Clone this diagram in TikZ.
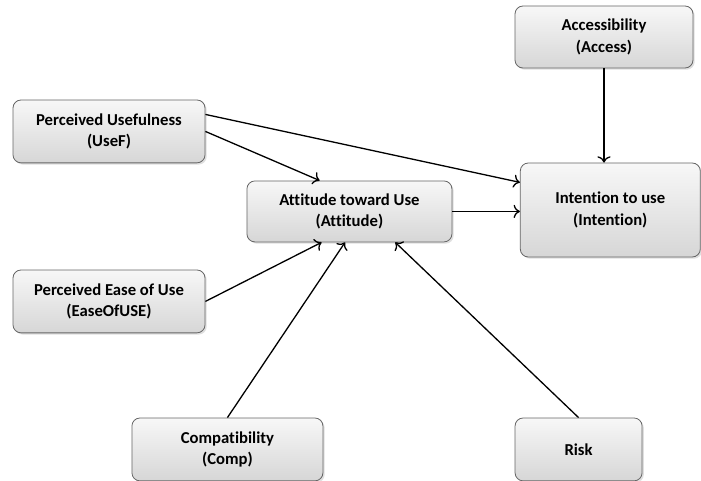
\documentclass[tikz,border=0pt]{standalone}
\usepackage{fontspec}
\setmainfont{Carlito}[Ligatures=CommonOff]
\usetikzlibrary{arrows.meta,shadows}
\newcommand\arrowtipscale{1.4}
\newcommand\boxheight{22mm}

\begin{document}
\begin{tikzpicture}[
    box/.style={draw=black!60,line width=0.8pt,rounded corners=2.8mm,
      top color=gray!6,bottom color=gray!32,
      drop shadow={opacity=0.25,shadow xshift=0.6mm,shadow yshift=-0.6mm},
      minimum height=\boxheight,align=center,inner sep=0pt,
      font=\bfseries\fontsize{16.6}{21.5}\selectfont},
    link/.style={line width=1.3pt,-{>[scale=\arrowtipscale]}}]
    \useasboundingbox (0,0) rectangle (245.35mm,-168.35mm);

    \node[box,minimum width=67.2mm] (UseF) at (38.15mm,-46mm) {Perceived Usefulness\\(UseF)};
    \node[box,minimum width=71.75mm,minimum height=21.35mm] (Attitude) at (122.3mm,-74mm) {Attitude toward Use\\(Attitude)};
    \node[box,minimum width=62.3mm,minimum height=21.7mm] (Access) at (211.4mm,-12.95mm) {Accessibility\\(Access)};
    \node[box,minimum width=63mm,minimum height=32.9mm] (Intention) at (213.6mm,-73.5mm) {Intention to use\\(Intention)};
    \node[box,minimum width=67.2mm] (EaseOfUse) at (38.15mm,-105.5mm) {Perceived Ease of Use\\(EaseOfUSE)};
    \node[box,minimum width=66.85mm] (Comp) at (79.6mm,-157.3mm) {Compatibility\\(Comp)};
    \node[box,minimum width=44.45mm] (Risk) at (202.5mm,-157.3mm) {Risk};

    \draw[link] (UseF.10) -- (Intention.163);
    \draw[link] (UseF.east) -- (Attitude.134);
    \draw[link] (Attitude.east) -- (Attitude.east -| Intention.west);
    \draw[link] (Access.south) -- (Access.south |- Intention.north);
    \draw[link] (EaseOfUse.east) -- (Attitude.228);
    \draw[link] (Comp.north) -- (Attitude.262);
    \draw[link] (Risk.north) -- (Attitude.326);
  \end{tikzpicture}
\end{document}
